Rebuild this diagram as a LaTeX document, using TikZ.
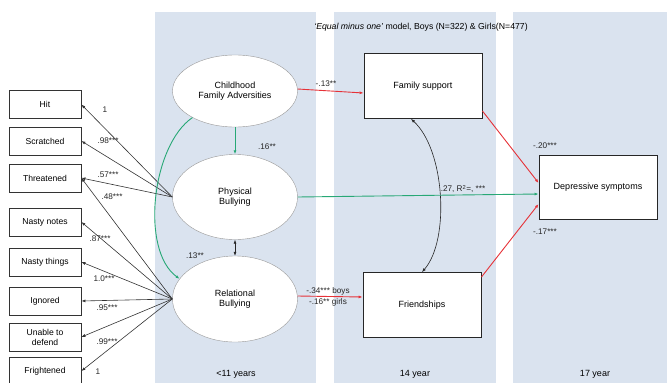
\documentclass[tikz,border=0pt]{standalone}
\usepackage{fontspec}
\setmainfont{Liberation Sans}
\usepackage{xcolor}
\usepackage{tikz}
\usetikzlibrary{
    arrows.meta,
    positioning,
    calc,
    shapes.geometric
}
\definecolor{panelblue}{RGB}{218,227,239}
\definecolor{pathgreen}{RGB}{40,168,118}
\definecolor{pathred}{RGB}{230,50,56}
\tikzset{
    panel/.style={
        fill=panelblue,
        draw=none
    }
}
\tikzset{
    indicator/.style={
        draw=black!80,
        line width=0.8pt,
        minimum width=72pt,
        minimum height=28pt,
        inner sep=1pt,
        align=center,
        fill=white,
        font=\fontsize{8.6}{10}\selectfont
    }
}
\tikzset{
    latent/.style={
        draw=black!40,
        ellipse,
        minimum width=125pt,
        align=center,
        fill=white
    }
}
\tikzset{
    observed/.style={
        draw=black!85,
        line width=0.8pt,
        minimum width=118pt,
        minimum height=65pt,
        align=center,
        fill=white
    }
}
\tikzset{
    loading/.style={
        draw=black!80,
        line width=0.6pt,
        ->,
        >={Latex[length=4pt,width=3pt]}
    }
}
\tikzset{
    greenpath/.style={
        draw=pathgreen,
        line width=0.9pt,
        ->,
        >={Latex[length=4pt,width=3pt]}
    }
}
\tikzset{
    redpath/.style={
        draw=pathred,
        line width=0.9pt,
        ->,
        >={Latex[length=4pt,width=3pt]}
    }
}
\tikzset{
    coef/.style={
        font=\fontsize{8.2}{9}\selectfont,
        inner sep=1pt,
        text=black!85
    }
}

\begin{document}
\begin{tikzpicture}[
    x=1pt,
    y=-1pt,
    >=Latex,
    font=\fontsize{9}{10.5}\selectfont
]

\useasboundingbox (0,0) rectangle (667,383);

% ------------------------------------------------------------
% Age panels
% ------------------------------------------------------------

\fill[panel] (155,12) rectangle (316,383);
\fill[panel] (334,12) rectangle (496,383);
\fill[panel] (513,12) rectangle (667,383);

\node[font=\fontsize{8.7}{10}\selectfont] (title) at (421,27)
    {\textit{`Equal minus one'} model, Boys (N=322) \& Girls(N=477)};

\node (age11) at (236,374) {<11 years};
\node (age14) at (415,374) {14 year};
\node (age17) at (595,374) {17 year};

% ------------------------------------------------------------
% Latent variables
% ------------------------------------------------------------

\node[latent, minimum height=72pt] (adversity) at (235,91)
    {Childhood\\Family Adversities};

\node[latent, minimum height=85pt] (physical) at (235,197)
    {Physical\\Bullying};

\node[latent, minimum height=86pt] (relational) at (235,299)
    {Relational\\Bullying};

% ------------------------------------------------------------
% Indicators
% ------------------------------------------------------------

\node[indicator] (hit) at (45,104.5) {Hit};
\node[indicator] (scratched) at (45,141) {Scratched};
\node[indicator] (threatened) at (45,178) {Threatened};
\node[indicator] (notes) at (45,222) {Nasty notes};
\node[indicator] (things) at (45,262) {Nasty things};
\node[indicator] (ignored) at (45,301) {Ignored};
\node[indicator] (unable) at (45,337) {Unable to\\defend};
\node[indicator] (frightened) at (45,371) {Frightened};

% ------------------------------------------------------------
% Outcomes
% ------------------------------------------------------------

\node[observed] (family) at (423,86) {Family support};
\node[observed] (friends) at (422,305) {Friendships};
\node[observed, minimum height=64pt] (depressive) at (598,187)
    {Depressive symptoms};

% ------------------------------------------------------------
% Measurement model
% ------------------------------------------------------------

\draw[loading] (physical.west) -- (hit.east);
\draw[loading] (physical.west) -- (scratched.east);
\draw[loading] (physical.west) -- (threatened.east);
\draw[loading] (relational.west) -- (threatened.east);
\draw[loading] (relational.west) -- (notes.east);
\draw[loading] (relational.west) -- (things.east);
\draw[loading] (relational.west) -- (ignored.east);
\draw[loading] (relational.west) -- (unable.east);
\draw[loading] (relational.west) -- (frightened.east);

\node[coef] (lhit) at (105,110) {1};
\node[coef] (lscratched) at (108,141) {.98***};
\node[coef] (lthreat) at (108,175) {.57***};
\node[coef] (lthreat2) at (112,197) {.48***};
\node[coef] (lnotes) at (100,239) {.87***};
\node[coef] (lthings) at (104,279) {1.0***};
\node[coef] (lignored) at (107,308) {.95***};
\node[coef] (lunable) at (107,342) {.99***};
\node[coef] (lfright) at (98,372) {1};

% ------------------------------------------------------------
% Paths at age 11
% ------------------------------------------------------------

\draw[greenpath] (adversity.south) -- (physical.north);
\node[coef] (l16) at (267,147) {.16**};

\draw[greenpath]
    (adversity.212) .. controls (152,145) and (140,250) .. (relational.160);

\draw[<->, >={Latex[length=4pt,width=3pt]}, draw=black!85, line width=0.6pt]
    (physical.south) -- (relational.north);
\node[coef] (l13) at (195,256) {.13**};

% ------------------------------------------------------------
% Paths to age 14 and 17
% ------------------------------------------------------------

\draw[redpath] ($(adversity.east)+(0,-2)$) -- ($(family.west)+(0,7)$);
\node[coef] (l13neg) at (326,84) {-.13**};

\draw[redpath] ($(relational.east)+(0,-3)$) -- ($(friends.west)+(0,-8)$);
\node[coef] (lboys) at (328,291) {-.34*** boys};
\node[coef] (lgirls) at (328,302) {-.16** girls};

\draw[<->, >={Latex[length=4pt,width=3pt]}, draw=black!85, line width=0.6pt]
    ($(family.south)+(-12,0)$) .. controls (445,150) and (450,240) .. (friends.north);

\draw[greenpath] (physical.east) -- ($(depressive.west)+(0,7)$);
\node[coef] (l27) at (463,189) {.27, R\textsuperscript{2}=, ***};

\draw[redpath] ($(family.south east)+(0,-8)$) -- ($(depressive.west)+(0,-4)$);
\draw[redpath] ($(friends.north east)+(0,5)$) -- ($(depressive.west)+(0,17)$);

\node[coef] (l20) at (545,146) {-.20***};
\node[coef] (l17) at (545,232) {-.17***};

\end{tikzpicture}
\end{document}
